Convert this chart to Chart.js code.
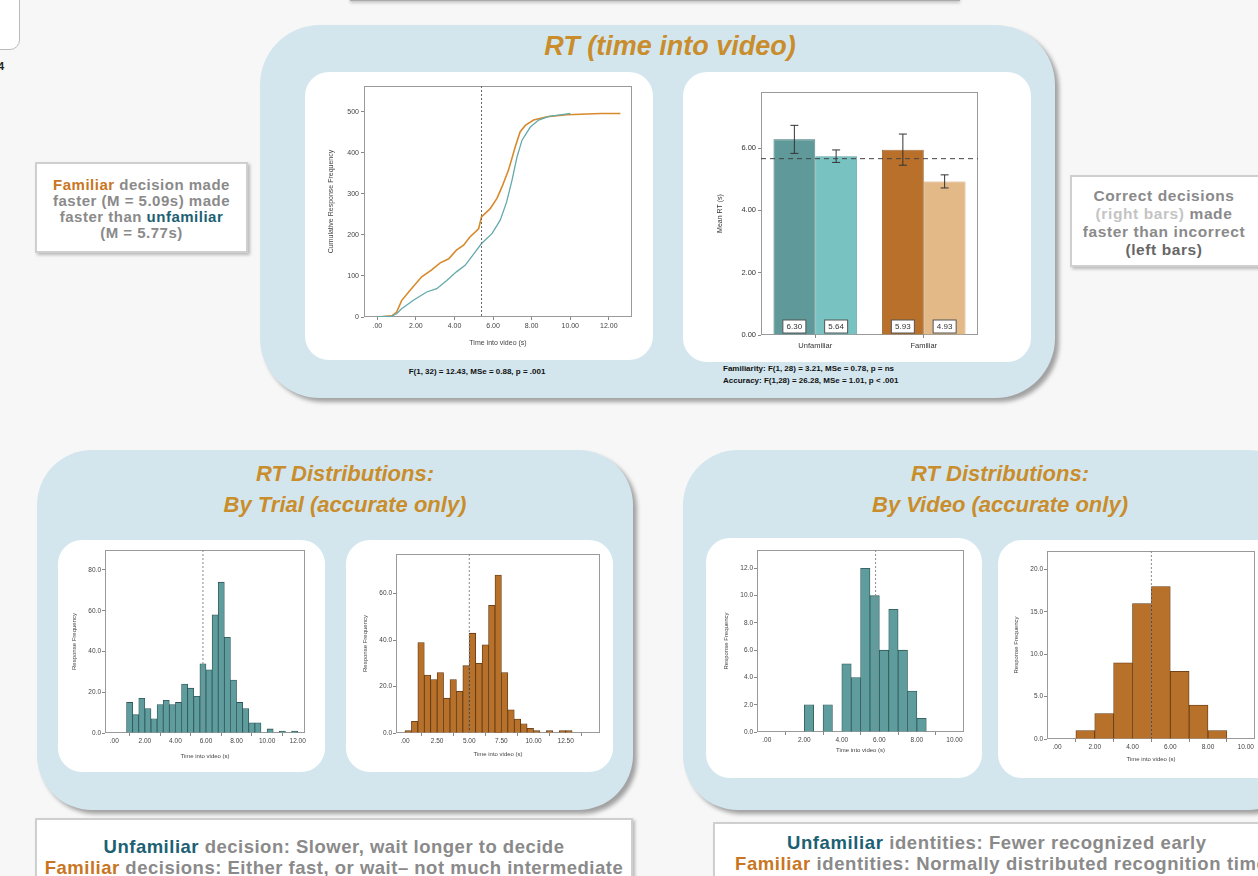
<!DOCTYPE html>
<html><head><meta charset="utf-8">
<script src="https://cdn.jsdelivr.net/npm/chart.js@4"></script>
<style>
html,body{margin:0;padding:0;background:#f7f7f7;width:1258px;height:876px;overflow:hidden;position:relative;font-family:"Liberation Sans",sans-serif}
.abs{position:absolute}
.panel{position:absolute;background:#d3e6ee;box-shadow:4px 4px 4px rgba(0,0,0,0.35)}
.wbox{position:absolute;background:#fff;border-radius:24px}
.wbox canvas{position:absolute;left:0;top:0}
.ttl{position:absolute;color:#c98d2c;font-family:"Liberation Sans Narrow","Liberation Sans",sans-serif;font-style:italic;font-weight:bold;text-align:center;white-space:nowrap}
.tbox{position:absolute;background:#fff;border:2px solid #cfcfcf;box-shadow:2px 2px 3px rgba(0,0,0,0.25);color:#8a8a8a;font-family:"Liberation Sans",sans-serif;font-weight:bold;text-align:center;white-space:nowrap;box-sizing:border-box}
.or{color:#c8761f}.tl{color:#1c6173}
.cap{position:absolute;font-family:"Liberation Sans",sans-serif;font-weight:bold;font-size:8px;color:#111;white-space:nowrap}
</style></head><body>

<div class="abs" style="left:-10px;top:-12px;width:28px;height:60px;background:#fff;border:1.5px solid #bbb;border-radius:0 0 10px 0"></div>
<div class="abs" style="left:-2px;top:60px;font:bold 11px 'Liberation Sans';color:#222">4</div>
<div class="abs" style="left:350px;top:-10px;width:610px;height:10px;background:#fff;border-bottom:1.5px solid #aaa;box-shadow:0 2px 3px rgba(0,0,0,0.2)"></div>

<div class="panel" style="left:260px;top:25px;width:795px;height:373px;border-radius:60px"></div>
<div class="ttl" style="left:460px;top:31px;width:420px;font-size:27px">RT (time into video)</div>
<div class="wbox" style="left:305px;top:72px;width:348px;height:288px"><canvas id="cum"></canvas></div>
<div class="wbox" style="left:683px;top:72px;width:348px;height:290px"><canvas id="bar"></canvas></div>
<div class="cap" style="left:377px;top:367px;width:200px;text-align:center">F(1, 32) = 12.43, MSe = 0.88, p = .001</div>
<div class="cap" style="left:723px;top:364px">Familiarity: F(1, 28) = 3.21, MSe = 0.78, p = ns</div>
<div class="cap" style="left:723px;top:376px">Accuracy: F(1,28) = 26.28, MSe = 1.01, p &lt; .001</div>

<div class="tbox" style="left:35px;top:162px;width:213px;height:91px;font-size:15px;letter-spacing:0.5px;line-height:16px;padding-top:13px"><span class="or">Familiar</span> decision made<br>faster (M = 5.09s) made<br>faster than <span class="tl">unfamiliar</span><br>(M = 5.77s)</div>
<div class="tbox" style="left:1070px;top:175px;width:200px;height:92px;font-size:15.5px;letter-spacing:0.6px;line-height:18px;padding-top:10px;padding-right:12px">Correct decisions<br><span style="color:#c4c4c4">(right bars)</span> made<br>faster than incorrect<br><span style="color:#666">(left bars)</span></div>

<div class="panel" style="left:37px;top:450px;width:596px;height:360px;border-radius:55px"></div>
<div class="ttl" style="left:145px;top:458px;width:400px;font-size:22px;line-height:31px">RT Distributions:<br>By Trial (accurate only)</div>
<div class="wbox" style="left:58px;top:540px;width:267px;height:232px"><canvas id="h1"></canvas></div>
<div class="wbox" style="left:346px;top:540px;width:267px;height:232px"><canvas id="h2"></canvas></div>

<div class="panel" style="left:683px;top:450px;width:620px;height:360px;border-radius:55px"></div>
<div class="ttl" style="left:800px;top:458px;width:400px;font-size:22px;line-height:31px">RT Distributions:<br>By Video (accurate only)</div>
<div class="wbox" style="left:706px;top:538px;width:276px;height:240px"><canvas id="h3"></canvas></div>
<div class="wbox" style="left:998px;top:540px;width:300px;height:238px"><canvas id="h4"></canvas></div>

<div class="tbox" style="left:35px;top:818px;width:598px;height:70px;font-size:18.5px;letter-spacing:0.5px;line-height:21px;padding-top:16px"><span class="tl">Unfamiliar</span> decision: Slower, wait longer to decide<br><span class="or">Familiar</span> decisions: Either fast, or wait– not much intermediate</div>
<div class="tbox" style="left:713px;top:822px;width:650px;height:70px;font-size:18.5px;letter-spacing:0.6px;line-height:21px;padding-top:8px;text-align:left;padding-left:72px"><span class="tl">Unfamiliar</span> identities: Fewer recognized early<br><span style="margin-left:-52px"><span class="or">Familiar</span> identities: Normally distributed recognition time</span></div>

<script>
// ---------- DATA ----------
const cumFamiliarX   = [0, 0.75, 1.0, 1.26, 1.7, 2.3, 2.8, 3.26, 3.7, 4.1, 4.47, 4.8, 5.25, 5.4, 5.85, 6.2, 6.46, 6.8, 7.15, 7.4, 7.67, 8.1, 8.8, 9.83, 11.57, 12.6];
const cumFamiliarY   = [0, 3, 12, 40, 65, 98, 114, 132, 142, 163, 175, 195, 215, 244, 264, 289, 317, 358, 415, 451, 467, 480, 488, 493, 496, 496];
const cumUnfamiliarX = [0, 0.75, 1.0, 1.26, 1.87, 2.56, 3.08, 3.6, 4.1, 4.55, 5.0, 5.4, 5.94, 6.37, 6.7, 6.98, 7.24, 7.5, 7.93, 8.36, 8.9, 9.66, 10.0];
const cumUnfamiliarY = [0, 2, 8, 20, 41, 61, 69, 89, 110, 126, 154, 179, 203, 236, 280, 333, 390, 431, 463, 480, 489, 494, 496];
const cumTicksX = [0, 2, 4, 6, 8, 10, 12];
const cumTicksY = [0, 100, 200, 300, 400, 500];

const barCategories = ["Unfamiliar", "Familiar"];
const barIncorrect    = [6.28, 5.95];
const barIncorrectErr = [0.45, 0.50];
const barCorrect      = [5.74, 4.93];
const barCorrectErr   = [0.20, 0.21];
const barIncorrectLabels = ["6.30", "5.93"];
const barCorrectLabels   = ["5.64", "4.93"];
const barGrandMean = 5.66;
const barTicksY = [0, 2, 4, 6];

const h1Centers = [1.0,1.4,1.8,2.2,2.6,3.0,3.4,3.8,4.2,4.6,5.0,5.4,5.8,6.2,6.6,7.0,7.4,7.8,8.2,8.6,9.0,9.4,9.8,10.2,10.6,11.0,11.4,11.8];
const h1Counts  = [15,9,17,12,7,14,16,14,15,24,22,18,34,31,58,74,47,26,15,12,5,5,0,2,0,1,0,1];
const h1TicksX = [0,2,4,6,8,10,12];
const h1TicksY = [0,20,40,60,80];

const h2Centers = [0.25,0.75,1.25,1.75,2.25,2.75,3.25,3.75,4.25,4.75,5.25,5.75,6.25,6.75,7.25,7.75,8.25,8.75,9.25,9.75,10.25,10.75,11.25,11.75,12.25,12.75];
const h2Counts  = [1,5,39,25,23,26,15,23,18,29,43,30,38,55,68,26,10,6,4,2,1,0,1,0,1,1];
const h2TicksX = [0,2.5,5,7.5,10,12.5];
const h2TicksY = [0,20,40,60];

const h3Centers = [2.25,2.75,3.25,3.75,4.25,4.75,5.25,5.75,6.25,6.75,7.25,7.75,8.25];
const h3Counts  = [2,0,2,0,5,4,12,10,6,9,6,3,1];
const h3TicksX = [0,2,4,6,8,10];
const h3TicksY = [0,2,4,6,8,10,12];

const h4Centers = [1.5,2.5,3.5,4.5,5.5,6.5,7.5,8.5];
const h4Counts  = [1,3,9,16,18,8,4,1];
const h4TicksX = [0,2,4,6,8,10];
const h4TicksY = [0,5,10,15,20];

// ---------- helpers ----------
const TEAL_LINE = '#64a9ab', ORANGE_LINE = '#d78a2b';
const TEAL_BAR = '#5f9c9d', ORANGE_BAR = '#b8712a';
function fmt2(v){ return v === 0 ? '.00' : v.toFixed(2); }
function fmt1(v){ return v.toFixed(1); }

const framePlugin = {
  id: 'frame',
  beforeDatasetsDraw(chart){
    const a = chart.chartArea, c = chart.ctx;
    c.save(); c.strokeStyle = '#9a9a9a'; c.lineWidth = 1;
    c.strokeRect(a.left + 0.5, a.top + 0.5, a.width - 1, a.height - 1);
    c.restore();
  },
  afterDatasetsDraw(chart){
    const o = chart.options.plugins.refLines || {};
    const c = chart.ctx, a = chart.chartArea;
    c.save();
    if (o.vx !== undefined){
      const px = chart.scales.x.getPixelForValue(o.vx);
      c.strokeStyle = o.color || '#777'; c.lineWidth = 1; c.setLineDash(o.dash || [2,2]);
      c.beginPath(); c.moveTo(px, a.top); c.lineTo(px, a.bottom); c.stroke();
    }
    if (o.hy !== undefined){
      const py = chart.scales.y.getPixelForValue(o.hy);
      c.strokeStyle = o.color || '#444'; c.lineWidth = 1; c.setLineDash(o.dash || [5,4]);
      c.beginPath(); c.moveTo(a.left, py); c.lineTo(a.right, py); c.stroke();
    }
    c.restore();
  }
};

function setup(id, boxW, boxH, plot, yW, xH){
  const cv = document.getElementById(id);
  cv.width = boxW; cv.height = boxH;
  cv.style.width = boxW + 'px'; cv.style.height = boxH + 'px';
  return {
    padding: { left: plot.l - yW, top: plot.t, right: boxW - plot.r, bottom: boxH - (plot.b + xH) }
  };
}

function axisCommon(){
  return {
    grid: { display: true, drawOnChartArea: false, drawTicks: true, tickLength: 3, color: '#888' },
    border: { display: false },
  };
}

function histChart(id, boxW, boxH, plot, yW, xH, centers, counts, color, edge, xmin, xmax, ymax, ticksX, ticksY, xFmt, vline, xTitle){
  const L = setup(id, boxW, boxH, plot, yW, xH);
  return new Chart(document.getElementById(id), {
    type: 'bar',
    data: { datasets: [{ data: centers.map((x,i)=>({x, y: counts[i]})), backgroundColor: color, borderColor: edge, borderWidth: 0.8, barPercentage: 1, categoryPercentage: 1 }] },
    options: {
      responsive: false, animation: false, layout: { padding: L.padding },
      plugins: { legend: { display: false }, tooltip: { enabled: false }, refLines: { vx: vline, color: '#8a8a8a', dash: [2,2] } },
      scales: {
        x: Object.assign(axisCommon(), {
          type: 'linear', min: xmin, max: xmax, offset: false,
          afterBuildTicks: s => { s.ticks = ticksX.map(v=>({value:v})); },
          afterFit: s => { s.height = xH; },
          ticks: { font: { size: 6.5, family: 'Liberation Sans' }, color: '#444', maxRotation: 0, autoSkip: false, padding: 1, callback: xFmt },
          title: { display: true, text: xTitle, font: { size: 6, family: 'Liberation Sans' }, color: '#444', padding: 0 }
        }),
        y: Object.assign(axisCommon(), {
          min: 0, max: ymax,
          afterBuildTicks: s => { s.ticks = ticksY.map(v=>({value:v})); },
          afterFit: s => { s.width = yW; },
          ticks: { font: { size: 6.5, family: 'Liberation Sans' }, color: '#444', padding: 1, callback: fmt1 },
          title: { display: true, text: 'Response Frequency', font: { size: 6, family: 'Liberation Sans' }, color: '#444', padding: 0 }
        })
      }
    },
    plugins: [framePlugin]
  });
}

// ---------- cumulative ----------
(function(){
  const bx = 305, by = 72;
  const plot = { l: 364-bx, t: 86-by, r: 632-bx, b: 317-by };
  const yW = 37, xH = 30;
  const L = setup('cum', 348, 288, plot, yW, xH);
  new Chart(document.getElementById('cum'), {
    type: 'line',
    data: { datasets: [
      { data: cumUnfamiliarX.map((x,i)=>({x, y: cumUnfamiliarY[i]})), borderColor: TEAL_LINE, borderWidth: 1.3, pointRadius: 0, tension: 0 },
      { data: cumFamiliarX.map((x,i)=>({x, y: cumFamiliarY[i]})), borderColor: ORANGE_LINE, borderWidth: 1.6, pointRadius: 0, tension: 0 }
    ]},
    options: {
      responsive: false, animation: false, layout: { padding: L.padding },
      plugins: { legend: { display: false }, tooltip: { enabled: false }, refLines: { vx: 5.4, color: '#666', dash: [2,2] } },
      scales: {
        x: Object.assign(axisCommon(), {
          type: 'linear', min: -0.69, max: 13.2,
          afterBuildTicks: s => { s.ticks = cumTicksX.map(v=>({value:v})); },
          afterFit: s => { s.height = xH; },
          ticks: { font: { size: 7, family: 'Liberation Sans' }, color: '#444', maxRotation: 0, autoSkip: false, padding: 2, callback: fmt2 },
          title: { display: true, text: 'Time into video (s)', font: { size: 7, family: 'Liberation Sans' }, color: '#444', padding: 0 }
        }),
        y: Object.assign(axisCommon(), {
          min: 0, max: 563,
          afterBuildTicks: s => { s.ticks = cumTicksY.map(v=>({value:v})); },
          afterFit: s => { s.width = yW; },
          ticks: { font: { size: 7, family: 'Liberation Sans' }, color: '#444', padding: 2 },
          title: { display: true, text: 'Cumulative Response Frequency', font: { size: 7, family: 'Liberation Sans' }, color: '#444', padding: 0 }
        })
      }
    },
    plugins: [framePlugin]
  });
})();

// ---------- bar chart ----------
(function(){
  const bx = 683, by = 72;
  const plot = { l: 761-bx, t: 92-by, r: 978-bx, b: 335-by };
  const yW = 45, xH = 20;
  const L = setup('bar', 348, 290, plot, yW, xH);
  const extras = {
    id: 'barExtras',
    afterDatasetsDraw(chart){
      const c = chart.ctx, ys = chart.scales.y;
      const sets = [[barIncorrect, barIncorrectErr, barIncorrectLabels], [barCorrect, barCorrectErr, barCorrectLabels]];
      sets.forEach((s, di) => {
        const meta = chart.getDatasetMeta(di);
        meta.data.forEach((el, i) => {
          const x = el.x;
          c.save();
          c.font = '8px "Liberation Sans"';
          const txt = s[2][i];
          const tw = 23, th = 13;
          const yb = ys.getPixelForValue(0) - 2;
          c.fillStyle = '#fff'; c.strokeStyle = '#555'; c.lineWidth = 1;
          c.fillRect(x - tw/2, yb - th, tw, th); c.strokeRect(x - tw/2, yb - th, tw, th);
          c.fillStyle = '#333'; c.textAlign = 'center'; c.textBaseline = 'middle';
          c.fillText(txt, x, yb - th/2);
          const top = ys.getPixelForValue(s[0][i] + s[1][i]);
          const bot = ys.getPixelForValue(s[0][i] - s[1][i]);
          c.strokeStyle = '#333'; c.lineWidth = 1;
          c.beginPath();
          c.moveTo(x, top); c.lineTo(x, bot);
          c.moveTo(x-4, top); c.lineTo(x+4, top);
          c.moveTo(x-4, bot); c.lineTo(x+4, bot);
          c.stroke();
          c.restore();
        });
      });
    }
  };
  new Chart(document.getElementById('bar'), {
    type: 'bar',
    data: { labels: barCategories, datasets: [
      { data: barIncorrect, backgroundColor: ['#5f9999', '#b8702a'], borderColor: ['#3f7373', '#8a5018'], borderWidth: 0.8, barPercentage: 1, categoryPercentage: 0.77 },
      { data: barCorrect, backgroundColor: ['#78c2c2', '#e3b988'], borderColor: ['#5aa0a0', '#c59a66'], borderWidth: 0.8, barPercentage: 1, categoryPercentage: 0.77 }
    ]},
    options: {
      responsive: false, animation: false, layout: { padding: L.padding },
      plugins: { legend: { display: false }, tooltip: { enabled: false }, refLines: { hy: barGrandMean, color: '#444', dash: [5,4] } },
      scales: {
        x: Object.assign(axisCommon(), {
          afterFit: s => { s.height = xH; },
          grid: { display: true, drawOnChartArea: false, drawTicks: true, tickLength: 3, color: '#888', offset: false },
          ticks: { font: { size: 7.5, family: 'Liberation Sans' }, color: '#333', padding: 3 }
        }),
        y: Object.assign(axisCommon(), {
          min: 0, max: 7.8,
          afterBuildTicks: s => { s.ticks = barTicksY.map(v=>({value:v})); },
          afterFit: s => { s.width = yW; },
          ticks: { font: { size: 7.5, family: 'Liberation Sans' }, color: '#333', padding: 2, callback: v => v.toFixed(2) },
          title: { display: true, text: 'Mean RT (s)', font: { size: 7, family: 'Liberation Sans' }, color: '#333', padding: 0 }
        })
      }
    },
    plugins: [framePlugin, extras]
  });
})();

// ---------- histograms ----------
histChart('h1', 267, 232, { l: 105-58, t: 550-540, r: 305-58, b: 733-540 }, 34, 27,
  h1Centers, h1Counts, TEAL_BAR, '#2f5656', -0.61, 12.48, 89.8, h1TicksX, h1TicksY, fmt2, 5.8, 'Time into video (s)');
histChart('h2', 267, 232, { l: 396-346, t: 554-540, r: 600-346, b: 733-540 }, 34, 25,
  h2Centers, h2Counts, ORANGE_BAR, '#5e3612', -0.70, 15.17, 77.1, h2TicksX, h2TicksY, fmt2, 5.0, 'Time into video (s)');
histChart('h3', 276, 240, { l: 757-706, t: 550-538, r: 964-706, b: 732-538 }, 34, 22,
  h3Centers, h3Counts, TEAL_BAR, '#2f5656', -0.52, 10.51, 13.35, h3TicksX, h3TicksY, fmt2, 5.8, 'Time into video (s)');
histChart('h4', 300, 238, { l: 1047-998, t: 551-540, r: 1255-998, b: 739-540 }, 34, 24,
  h4Centers, h4Counts, ORANGE_BAR, '#5e3612', -0.53, 10.49, 22.2, h4TicksX, h4TicksY, fmt2, 5.0, 'Time into video (s)');
</script>
</body></html>
